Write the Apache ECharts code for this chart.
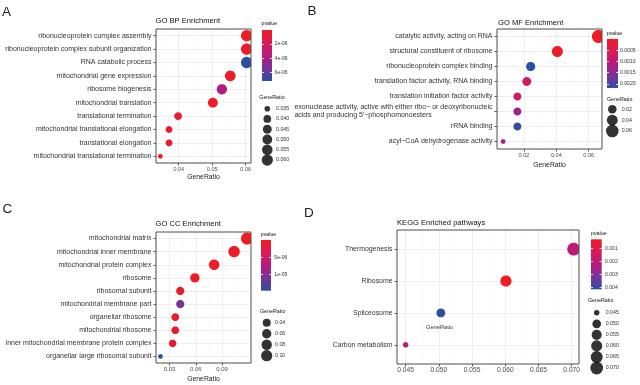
<!DOCTYPE html>
<html><head><meta charset="utf-8">
<script src="https://cdn.jsdelivr.net/npm/echarts@6/dist/echarts.min.js"></script>
<style>html,body{margin:0;padding:0;background:#fff}#c{width:640px;height:385px}</style>
</head><body><div id="c"></div>
<script>
// ---------- DATA ----------
const catsA = ['ribonucleoprotein complex assembly','ribonucleoprotein complex subunit organization','RNA catabolic process','mitochondrial gene expression','ribosome biogenesis','mitochondrial translation','translational termination','mitochondrial translational elongation','translational elongation','mitochondrial translational termination'];
const ratioA = [0.0603,0.0603,0.0603,0.0554,0.0529,0.0502,0.0398,0.0371,0.0371,0.0345];
const pvalA = [2e-8,3e-7,7.2e-6,1.5e-7,3.9e-6,1e-7,4e-7,5e-7,5e-7,4e-7];
const xTicksA = [0.04,0.05,0.06];
const pTicksA = [2e-6,4e-6,6e-6];
const sizeTicksA = [0.035,0.040,0.045,0.050,0.055,0.060];

const catsB = ['catalytic activity, acting on RNA','structural constituent of ribosome','ribonucleoprotein complex binding','translation factor activity, RNA binding','translation initiation factor activity','exonuclease activity, active with either ribo\u2212 or deoxyribonucleic\nacids and producing 5\u2032\u2212phosphomonoesters','rRNA binding','acyl\u2212CoA dehydrogenase activity'];
const ratioB = [0.0660,0.0406,0.0241,0.0217,0.0159,0.0159,0.0159,0.0071];
const pvalB = [1e-6,3e-5,0.00218,0.00065,0.00072,0.00128,0.0021,0.0013];
const xTicksB = [0.02,0.04,0.06];
const pTicksB = [0.0005,0.0010,0.0015,0.0020];
const sizeTicksB = [0.02,0.04,0.06];

const catsC = ['mitochondrial matrix','mitochondrial inner membrane','mitochondrial protein complex','ribosome','ribosomal subunit','mitochondrial membrane part','organellar ribosome','mitochondrial ribosome','inner mitochondrial membrane protein complex','organellar large ribosomal subunit'];
const ratioC = [0.1185,0.1037,0.0809,0.0589,0.0422,0.0422,0.0365,0.0365,0.0335,0.0196];
const pvalC = [1e-9,5e-8,2e-7,3e-7,8e-7,1.15e-5,6e-7,6e-7,1e-6,1.47e-5];
const xTicksC = [0.03,0.06,0.09];
const pTicksC = [5e-6,1e-5];
const sizeTicksC = [0.04,0.06,0.08,0.10];

const catsD = ['Thermogenesis','Ribosome','Spliceosome','Carbon metabolism'];
const ratioD = [0.0703,0.0601,0.0503,0.0450];
const pvalD = [0.0021,0.00032,0.00413,0.0022];
const xTicksD = [0.045,0.050,0.055,0.060,0.065,0.070];
const pTicksD = [0.001,0.002,0.003,0.004];
const sizeTicksD = [0.045,0.050,0.055,0.060,0.065,0.070];

// ---------- STYLE / LAYOUT ----------
const FONT = '"Liberation Sans", Arial, sans-serif';
const COLORS = ['#EE1D24','#D81B55','#B81A7E','#7A3296','#2C4FA0'];
const sci = v => v.toExponential(0).replace(/e([+-])(\d)$/, 'e$10$2');
const fix = n => v => v.toFixed(n);

const panels = [
  {cats:catsA, x:ratioA, p:pvalA, xTicks:xTicksA, xFmt:fix(2), pTicks:pTicksA, pFmt:sci, sTicks:sizeTicksA, sFmt:fix(3),
   grid:{left:156,top:29,width:95,height:134}, xMin:0.0332, xMax:0.0616, minInt:0.01, dmin:4.7, dmax:11.3, yPad:0.5,
   title:'GO BP Enrichment', tPos:[155.5,17.2], xName:true, nameGap:10.6, xFont:5.5, yFont:7,
   cbar:{left:262,top:30,w:10,h:51,m:2.6}, pT:[261.5,21.3], sT:[259.3,94.6], sLeg:{cx:267.3,top:103.6,step:10.26,m:3.7}},
  {cats:catsB, x:ratioB, p:pvalB, xTicks:xTicksB, xFmt:fix(2), pTicks:pTicksB, pFmt:fix(4), sTicks:sizeTicksB, sFmt:fix(2),
   grid:{left:497,top:29,width:105,height:120}, xMin:0.0033, xMax:0.0682, minInt:0.02, dmin:4.7, dmax:13, yPad:0.5,
   title:'GO MF Enrichment', tPos:[498,18.5], xName:true, nameGap:13, xFont:5.6, yFont:7,
   cbar:{left:607,top:39,w:11,h:49,m:2}, pT:[606.7,30.6], sT:[607,97.3], sLeg:{cx:612.3,top:103.9,step:10.85,m:4.4}},
  {cats:catsC, x:ratioC, p:pvalC, xTicks:xTicksC, xFmt:fix(2), pTicks:pTicksC, pFmt:sci, sTicks:sizeTicksC, sFmt:fix(2),
   grid:{left:156,top:232,width:95,height:131}, xMin:0.0145, xMax:0.123, minInt:0.03, dmin:4.7, dmax:12, yPad:0.5,
   title:'GO CC Enrichment', tPos:[155.5,219.5], xName:true, nameGap:12.6, xFont:6, yFont:7,
   cbar:{left:261,top:240,w:10,h:50.7,m:3.3}, pT:[260.7,231.6], sT:[260,309], sLeg:{cx:266.7,top:317.2,step:11,m:3.3}},
  {cats:catsD, x:ratioD, p:pvalD, xTicks:xTicksD, xFmt:fix(3), pTicks:pTicksD, pFmt:fix(3), sTicks:sizeTicksD, sFmt:fix(3),
   grid:{left:397,top:230,width:182,height:134}, xMin:0.0437, xMax:0.0711, minInt:0.005, dmin:5.5, dmax:12.8, yPad:0.6,
   title:'KEGG Enriched pathways', tPos:[397,218.9], xName:false, nameGap:0, xFont:6.7, yFont:6.9,
   cbar:{left:591,top:239.3,w:10.7,h:50,m:3.3}, pT:[591,230.6], sT:[588,298], sLeg:{cx:596.7,top:307.2,step:11.06,m:4}}
];

function sizeFn(vals, dmin, dmax){
  const lo = Math.min(...vals), hi = Math.max(...vals);
  return v => dmin + (dmax - dmin) * Math.sqrt(Math.max(0, (v - lo) / (hi - lo)));
}

const grid = [], xAxis = [], yAxis = [], series = [], visualMap = [], title = [];
const txt = (text, left, top, size, color) => ({text, left, top, padding:0,
  textStyle:{fontSize:size, fontWeight:'normal', color:color || '#111', fontFamily:FONT}});

panels.forEach((P, i) => {
  const sz = sizeFn(P.x, P.dmin, P.dmax);
  const pmin = Math.min(...P.p), pmax = Math.max(...P.p);
  const n = P.cats.length;
  const idx = P.cats.map((c, k) => k + 1);
  grid.push(Object.assign({show:true, z:5, backgroundColor:'transparent', borderColor:'#4d4d4d', borderWidth:1, outerBoundsMode:'none', containLabel:false}, P.grid));
  xAxis.push({gridIndex:i, type:'value', min:P.xMin, max:P.xMax, minInterval:P.minInt, maxInterval:P.minInt,
    axisLine:{show:false},
    axisTick:{show:true, length:2.5, customValues:P.xTicks, lineStyle:{color:'#333', width:0.8}},
    axisLabel:{customValues:P.xTicks, formatter:P.xFmt, fontSize:P.xFont, color:'#4d4d4d', margin:3, fontFamily:FONT},
    splitLine:{show:true, lineStyle:{color:'#EBEBEB', width:0.8}},
    minorTick:{show:false, splitNumber:2},
    minorSplitLine:{show:true, lineStyle:{color:'#F4F4F4', width:0.5}},
    name:P.xName ? 'GeneRatio' : '', nameLocation:'middle', nameGap:P.nameGap,
    nameTextStyle:{fontSize:6.8, color:'#222', fontFamily:FONT}});
  yAxis.push({gridIndex:i, type:'value', min:1 - P.yPad, max:n + P.yPad, inverse:true,
    axisLine:{show:false},
    axisTick:{show:true, length:2.5, customValues:idx, lineStyle:{color:'#333', width:0.8}},
    splitLine:{show:true, lineStyle:{color:'#EBEBEB', width:0.8}},
    axisLabel:{margin:4.5, customValues:idx, fontFamily:FONT,
      formatter: v => P.cats[Math.round(v) - 1].split('\n').map(s => '{a|' + s + '}').join('\n'),
      rich:{a:{fontSize:P.yFont, color:'#333', align:'left', lineHeight:8, fontFamily:FONT}}}});
  series.push({type:'custom', xAxisIndex:i, yAxisIndex:i, z:2,
    data:P.cats.map((c, k) => [P.x[k], k + 1, P.p[k]]),
    encode:{x:0, y:1},
    renderItem:(params, api) => {
      const pt = api.coord([api.value(0), api.value(1)]);
      const r = sz(api.value(0)) / 2;
      const cs = params.coordSys;
      const pts = [];
      for (let k = 0; k < 72; k++) {
        const a = k / 72 * 2 * Math.PI;
        pts.push([Math.min(cs.x + cs.width, Math.max(cs.x, pt[0] + r * Math.cos(a))),
                  Math.min(cs.y + cs.height, Math.max(cs.y, pt[1] + r * Math.sin(a)))]);
      }
      return {type:'polygon', shape:{points:pts}, style:{fill:api.visual('color')}};
    }});
  visualMap.push({type:'continuous', seriesIndex:i, dimension:2, min:pmin, max:pmax, show:false,
    inRange:{color:COLORS}});
  title.push(txt(P.title, P.tPos[0], P.tPos[1], 7.6));
  title.push(txt('pvalue', P.pT[0], P.pT[1], 5.3));
  title.push(txt('GeneRatio', P.sT[0], P.sT[1], 5.3));
  P._sz = sz; P._pmin = pmin; P._pmax = pmax;
});

// colorbars (grids 4..7)
panels.forEach((P, i) => {
  const gi = grid.length;
  grid.push({left:P.cbar.left, top:P.cbar.top, width:P.cbar.w, height:P.cbar.h, show:false, outerBoundsMode:'none'});
  xAxis.push({gridIndex:gi, type:'value', min:0, max:1, show:false});
  const base = {gridIndex:gi, type:'value', min:P._pmin, max:P._pmax, inverse:true, z:10,
    axisLine:{show:false}, splitLine:{show:false}};
  const yl = yAxis.length;
  yAxis.push(Object.assign({}, base, {position:'left',
    axisTick:{show:true, inside:true, length:2, customValues:P.pTicks, lineStyle:{color:'#fff', width:0.8}},
    axisLabel:{show:false, customValues:P.pTicks}}));
  yAxis.push(Object.assign({}, base, {position:'right',
    axisTick:{show:true, inside:true, length:2, customValues:P.pTicks, lineStyle:{color:'#fff', width:0.8}},
    axisLabel:{show:true, customValues:P.pTicks, formatter:P.pFmt, fontSize:5.1, color:'#333', margin:P.cbar.m, fontFamily:FONT}}));
  const stops = COLORS.map((c, k) => ({offset:k / (COLORS.length - 1), color:c}));
  series.push({type:'custom', xAxisIndex:gi, yAxisIndex:yl, silent:true, z:1,
    data:[[0, P._pmin], [1, P._pmax]],
    renderItem:(params, api) => {
      if (params.dataIndex !== 0) return null;
      const a = api.coord([0, P._pmin]), b = api.coord([1, P._pmax]);
      return {type:'rect', shape:{x:a[0], y:a[1], width:b[0] - a[0], height:b[1] - a[1]},
        style:{fill:new echarts.graphic.LinearGradient(0, 0, 0, 1, stops)}};
    }});
});

// size legends (grids 8..11)
panels.forEach((P, i) => {
  const gi = grid.length;
  const L = P.sLeg;
  grid.push({left:L.cx - 5, top:L.top, width:10, height:L.step * P.sTicks.length, show:false, outerBoundsMode:'none'});
  xAxis.push({gridIndex:gi, type:'value', min:-1, max:1, show:false});
  const labels = P.sTicks.map(P.sFmt);
  const yi = yAxis.length;
  yAxis.push({gridIndex:gi, type:'category', data:labels, inverse:true, position:'right',
    axisLine:{show:false}, axisTick:{show:false}, splitLine:{show:false},
    axisLabel:{fontSize:5.3, color:'#333', margin:L.m, interval:0, fontFamily:FONT}});
  series.push({type:'scatter', xAxisIndex:gi, yAxisIndex:yi, symbol:'circle',
    data:P.sTicks.map((t, k) => [0, labels[k], t]),
    symbolSize: d => P._sz(d[2]), itemStyle:{color:'#000'}, silent:true});
});

// panel letters & the stray axis title in D
[['A',2,5.6],['B',307.5,3.9],['C',2.5,201.8],['D',304,206.3]].forEach(t => title.push(txt(t[0], t[1], t[2], 13.5, '#222')));
title.push(txt('GeneRatio', 426, 324, 5.7, '#333'));

const chart = echarts.init(document.getElementById('c'), null, {renderer:'canvas'});
chart.setOption({animation:false, backgroundColor:'#fff', textStyle:{fontFamily:FONT},
  title, grid, xAxis, yAxis, series, visualMap});
</script></body></html>
